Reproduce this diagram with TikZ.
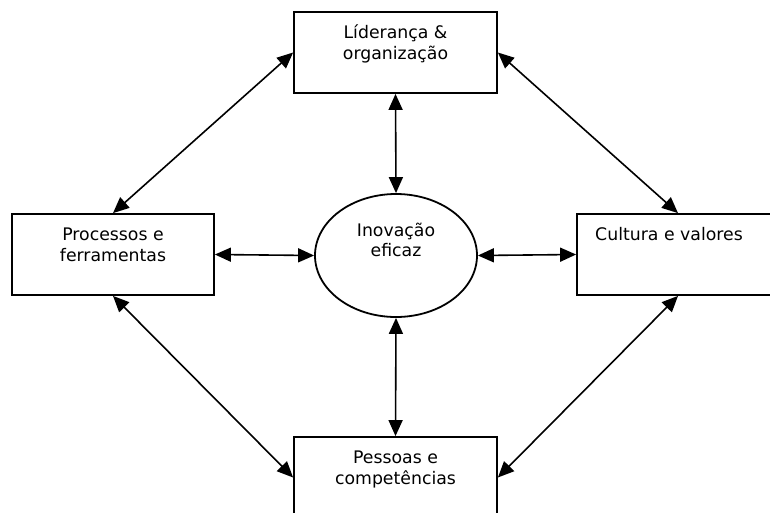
\documentclass[tikz,border=0pt]{standalone}
\usepackage{fontspec}
\setmainfont{DejaVu Sans}
\usetikzlibrary{arrows.meta,shapes.geometric}
\begin{document}
\begin{tikzpicture}[x=1pt,y=1pt,
  boxnode/.style={draw=black,line width=1.8pt,rectangle,inner sep=0pt,minimum width=203pt,minimum height=81pt},
  ellnode/.style={draw=black,line width=1.8pt,ellipse,inner sep=0pt,minimum width=162pt,minimum height=123pt},
  txt/.style={inner sep=0pt,anchor=base,font=\fontsize{17.3pt}{21pt}\selectfont},
  biarrow/.style={line width=1.6pt,{Triangle[length=16pt,width=14pt]}-{Triangle[length=16pt,width=14pt]}}]
\useasboundingbox (0,0) rectangle (770,-512);
\node[boxnode] (top) at (395.5,-52.5) {};
\node[boxnode,minimum width=202pt] (left) at (113,-254.5) {};
\node[boxnode,minimum width=202pt] (right) at (678,-254.5) {};
\node[boxnode] (bottom) at (395.5,-477.5) {};
\node[ellnode] (ell) at (396,-255.5) {};
\node[txt] (t1) at (395.5,-38) {Líderança \&};
\node[txt] (t2) at (395.5,-59) {organização};
\node[txt] (l1) at (113,-240.5) {Processos e};
\node[txt] (l2) at (113,-261.5) {ferramentas};
\node[txt] (r1) at (669,-240.5) {Cultura e valores};
\node[txt] (b1) at (395.5,-463.5) {Pessoas e};
\node[txt] (b2) at (395.5,-484) {competências};
\node[txt] (e1) at (396,-236) {Inovação};
\node[txt] (e2) at (396,-256.5) {eficaz};
\draw[biarrow] (left.north) -- (top.west);
\draw[biarrow] (top.east) -- (right.north);
\draw[biarrow] (left.south) -- (bottom.west);
\draw[biarrow] (right.south) -- (bottom.east);
\draw[biarrow] (top.south) -- (ell.north);
\draw[biarrow] (left.east) -- (ell.west);
\draw[biarrow] (ell.east) -- (right.west);
\draw[biarrow] (ell.south) -- (bottom.north);
\end{tikzpicture}
\end{document}
